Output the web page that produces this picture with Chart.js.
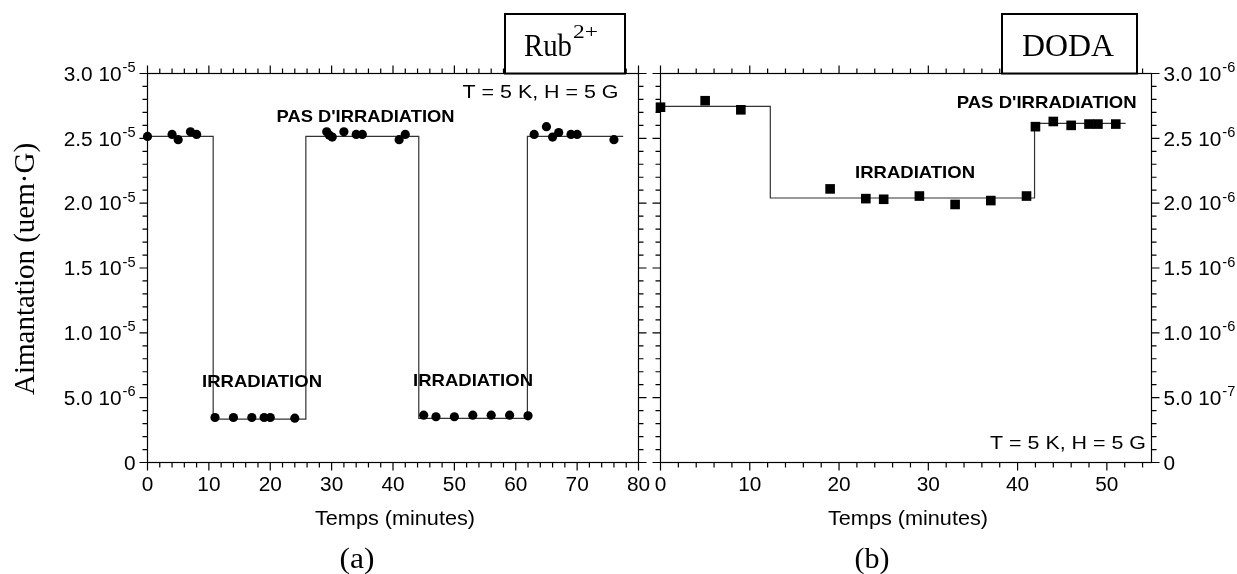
<!DOCTYPE html>
<html>
<head>
<meta charset="utf-8">
<script src="https://cdn.jsdelivr.net/npm/chart.js@4.4.0/dist/chart.umd.min.js"></script>
<style>
  html, body { margin: 0; padding: 0; background: #fff; }
  #zone { position: relative; width: 1237px; height: 574px; overflow: hidden; }
  canvas { position: absolute; top: 0; }
  #grapheA { left: 0; }
  #grapheB { left: 640px; }
</style>
</head>
<body>
<div id="zone">
  <canvas id="grapheA" width="660" height="574"></canvas>
  <canvas id="grapheB" width="597" height="574"></canvas>
</div>
<script>
// =========================
// Données (a) Rub2+
// =========================
const rubTemps = [0, 4, 5, 7, 8, 11, 14, 17, 19, 20, 24, 29.2, 29.6, 30.1, 32, 34, 35, 41, 42,
  45, 47, 50, 53, 56, 59, 62, 63, 65, 66, 67, 69, 70, 76];
const rubAimantation = [2.515e-5, 2.53e-5, 2.49e-5, 2.55e-5, 2.53e-5,
  3.47e-6, 3.47e-6, 3.47e-6, 3.47e-6, 3.47e-6, 3.42e-6,
  2.55e-5, 2.525e-5, 2.51e-5, 2.55e-5, 2.53e-5, 2.53e-5, 2.49e-5, 2.53e-5,
  3.65e-6, 3.53e-6, 3.53e-6, 3.65e-6, 3.65e-6, 3.65e-6, 3.6e-6,
  2.53e-5, 2.59e-5, 2.51e-5, 2.545e-5, 2.53e-5, 2.53e-5, 2.49e-5];
// paliers (courbe en escalier)
const rubPalierTemps = [0, 10.7, 25.8, 44.2, 61.9, 77.5];
const rubPalierAim = [2.515e-5, 3.35e-6, 2.515e-5, 3.4e-6, 2.515e-5, 2.515e-5];

const rubGradX = [0, 10, 20, 30, 40, 50, 60, 70, 80];
const rubGradY = [0, 5e-6, 1e-5, 1.5e-5, 2e-5, 2.5e-5, 3e-5];
const rubMantisses = ['0', '5.0 10', '1.0 10', '1.5 10', '2.0 10', '2.5 10', '3.0 10'];
const rubExposants = ['', '-6', '-5', '-5', '-5', '-5', '-5'];

// =========================
// Données (b) DODA
// =========================
const dodaTemps = [0, 5, 9, 19, 23, 25, 29, 33, 37, 41, 42, 44, 46, 48, 49, 51];
const dodaAimantation = [2.74e-6, 2.79e-6, 2.72e-6, 2.11e-6, 2.035e-6, 2.03e-6, 2.055e-6, 1.99e-6,
  2.02e-6, 2.055e-6, 2.59e-6, 2.63e-6, 2.6e-6, 2.61e-6, 2.61e-6, 2.61e-6];
const dodaPalierTemps = [0, 12.3, 41.9, 52.1];
const dodaPalierAim = [2.747e-6, 2.04e-6, 2.615e-6, 2.615e-6];

const dodaGradX = [0, 10, 20, 30, 40, 50];
const dodaGradY = [0, 5e-7, 1e-6, 1.5e-6, 2e-6, 2.5e-6, 3e-6];
const dodaMantisses = ['0', '5.0 10', '1.0 10', '1.5 10', '2.0 10', '2.5 10', '3.0 10'];
const dodaExposants = ['', '-7', '-6', '-6', '-6', '-6', '-6'];

// =========================
// Utilitaires de texte
// =========================
const SANS = '"Liberation Sans", Arial, sans-serif';
const SERIF = '"Liberation Serif", "Times New Roman", serif';
const POLICE_GRAD = '20px ' + SANS;
const POLICE_EXP = '14px ' + SANS;
const SX_GRAD = 1.04;

function mesure(ctx, str, font) {
  ctx.font = font;
  return ctx.measureText(str).width;
}

// écrit un texte, étiré horizontalement de sx
function texte(ctx, str, x, y, font, align, sx) {
  sx = sx || 1;
  const w = mesure(ctx, str, font) * sx;
  let x0 = x;
  if (align === 'center') x0 = x - w / 2;
  else if (align === 'right') x0 = x - w;
  ctx.save();
  ctx.font = font;
  ctx.fillStyle = '#000';
  ctx.textAlign = 'left';
  ctx.textBaseline = 'alphabetic';
  ctx.translate(x0, y);
  ctx.scale(sx, 1);
  ctx.fillText(str, 0, 0);
  ctx.restore();
  return w;
}

// texte ajusté à une largeur donnée
function texteLargeur(ctx, str, x, y, font, align, largeur) {
  const sx = largeur / mesure(ctx, str, font);
  return texte(ctx, str, x, y, font, align, sx);
}

function etiquetteY(ctx, mant, exp, x, y, cote) {
  const wm = mesure(ctx, mant, POLICE_GRAD) * SX_GRAD;
  const we = exp ? mesure(ctx, exp, POLICE_EXP) * SX_GRAD + 1 : 0;
  const debut = cote === 'gauche' ? x - wm - we : x;
  texte(ctx, mant, debut, y + 7.3, POLICE_GRAD, 'left', SX_GRAD);
  if (exp) texte(ctx, exp, debut + wm + 1, y - 1.5, POLICE_EXP, 'left', SX_GRAD);
}

// =========================
// Plugin : cadre, graduations, textes
// =========================
function plugCadre(cfg) {
  return {
    id: 'cadre' + cfg.nom,
    afterDraw(chart) {
      const { ctx, chartArea: a, scales: { x, y } } = chart;
      const dx = cfg.decalage;
      ctx.save();
      ctx.strokeStyle = '#000';
      ctx.lineWidth = 1.2;
      ctx.strokeRect(a.left, a.top, a.right - a.left, a.bottom - a.top);

      ctx.beginPath();
      // graduations X (bas et haut, vers l'extérieur)
      for (let i = 0; i * cfg.pasX <= x.max + 1e-9; i++) {
        const v = i * cfg.pasX;
        const px = x.getPixelForValue(v);
        const l = cfg.gradX.includes(v) ? 8 : 5;
        ctx.moveTo(px, a.bottom); ctx.lineTo(px, a.bottom + l);
        ctx.moveTo(px, a.top); ctx.lineTo(px, a.top - l);
      }
      // graduations Y (gauche et droite)
      for (let i = 0; i * cfg.pasY <= y.max * 1.0000001; i++) {
        const v = i * cfg.pasY;
        const py = y.getPixelForValue(v);
        const majeur = cfg.gradY.some(g => Math.abs(g - v) < cfg.pasY / 100);
        const l = majeur ? 8 : 5;
        ctx.moveTo(a.left, py); ctx.lineTo(a.left - l, py);
        ctx.moveTo(a.right, py); ctx.lineTo(a.right + l, py);
      }
      ctx.stroke();

      // étiquettes
      cfg.gradX.forEach(v => {
        texte(ctx, String(v), x.getPixelForValue(v), a.bottom + 28.8, POLICE_GRAD, 'center', SX_GRAD);
      });
      cfg.gradY.forEach((v, i) => {
        const py = y.getPixelForValue(v);
        if (cfg.cote === 'gauche') etiquetteY(ctx, cfg.mant[i], cfg.exp[i], a.left - 12, py, 'gauche');
        else etiquetteY(ctx, cfg.mant[i], cfg.exp[i], a.right + 12, py, 'droite');
      });

      // titre de l'axe X
      texteLargeur(ctx, 'Temps (minutes)', (a.left + a.right) / 2 + 2, 525, '21px ' + SANS, 'center', 160);

      // annotations
      cfg.notes.forEach(n => {
        texteLargeur(ctx, n.t, n.x - dx, n.y, n.font, 'left', n.w);
      });

      // lettre (a)/(b)
      texteLargeur(ctx, cfg.lettre, cfg.lettreX - dx, 567.5, '30px ' + SERIF, 'center', 35);

      // encadré du composé
      const b = cfg.boite;
      ctx.fillStyle = '#fff';
      ctx.fillRect(b.x - dx, b.y, b.w, a.top - b.y);
      ctx.lineWidth = 2;
      ctx.strokeRect(b.x - dx, b.y, b.w, a.top - b.y);
      b.textes.forEach(t => texteLargeur(ctx, t.t, t.x - dx, t.y, t.font, 'left', t.w));

      if (cfg.titreY) {
        ctx.save();
        ctx.translate(33.5, (a.top + a.bottom) / 2 + 1);
        ctx.rotate(-Math.PI / 2);
        texte(ctx, 'Aimantation (uem\u00b7G)', 0, 0, '29px ' + SERIF, 'center', 1);
        ctx.restore();
      }
      ctx.restore();
    }
  };
}

function nuage(temps, valeurs) {
  return temps.map((t, i) => ({ x: t, y: valeurs[i] }));
}

function creerGraphe(idCanvas, cfg) {
  const ctx = document.getElementById(idCanvas).getContext('2d');
  return new Chart(ctx, {
    type: 'scatter',
    data: {
      datasets: [{
        data: nuage(cfg.temps, cfg.aim),
        pointStyle: cfg.symbole,
        pointRadius: cfg.rayon,
        pointBorderWidth: 0,
        backgroundColor: '#000',
        borderColor: '#000',
        showLine: false,
        clip: false
      }, {
        data: nuage(cfg.palierT, cfg.palierA),
        showLine: true,
        stepped: true,
        pointRadius: 0,
        borderColor: '#333',
        borderWidth: 1.2,
        clip: false
      }]
    },
    options: {
      responsive: false,
      devicePixelRatio: 1,
      animation: false,
      layout: { padding: cfg.marges },
      plugins: { legend: { display: false }, tooltip: { enabled: false } },
      scales: {
        x: { type: 'linear', min: 0, max: cfg.xMax, display: false },
        y: { type: 'linear', min: 0, max: cfg.yMax, display: false }
      }
    },
    plugins: [plugCadre(cfg)]
  });
}

const BOLD = 'bold 17px ' + SANS;

creerGraphe('grapheA', {
  nom: 'A', decalage: 0, cote: 'gauche', titreY: true,
  temps: rubTemps, aim: rubAimantation, palierT: rubPalierTemps, palierA: rubPalierAim,
  symbole: 'circle', rayon: 4.6,
  xMax: 80, yMax: 3e-5, pasX: 2, pasY: 1e-6,
  gradX: rubGradX, gradY: rubGradY, mant: rubMantisses, exp: rubExposants,
  marges: { left: 147.5, right: 21.5, top: 73.5, bottom: 111.5 },
  lettre: '(a)', lettreX: 357,
  notes: [
    { t: 'T = 5 K, H = 5 G', x: 462.5, y: 98.3, font: '18px ' + SANS, w: 156 },
    { t: "PAS D'IRRADIATION", x: 276.5, y: 122, font: BOLD, w: 178 },
    { t: 'IRRADIATION', x: 202, y: 387.3, font: BOLD, w: 120 },
    { t: 'IRRADIATION', x: 413, y: 386, font: BOLD, w: 120 }
  ],
  boite: { x: 505, y: 14, w: 120, textes: [
    { t: 'Rub', x: 524, y: 56, font: '32px ' + SERIF, w: 48 },
    { t: '2+', x: 573, y: 38, font: '19px ' + SERIF, w: 25 }
  ] }
});

creerGraphe('grapheB', {
  nom: 'B', decalage: 640, cote: 'droite', titreY: false,
  temps: dodaTemps, aim: dodaAimantation, palierT: dodaPalierTemps, palierA: dodaPalierAim,
  symbole: 'rect', rayon: 6.8,
  xMax: 55, yMax: 3e-6, pasX: 2, pasY: 1e-7,
  gradX: dodaGradX, gradY: dodaGradY, mant: dodaMantisses, exp: dodaExposants,
  marges: { left: 20.5, right: 85.5, top: 73.5, bottom: 111.5 },
  lettre: '(b)', lettreX: 872,
  notes: [
    { t: "PAS D'IRRADIATION", x: 956.7, y: 108.3, font: BOLD, w: 180 },
    { t: 'IRRADIATION', x: 855, y: 178.3, font: BOLD, w: 120 },
    { t: 'T = 5 K, H = 5 G', x: 990, y: 449.3, font: '18px ' + SANS, w: 156 }
  ],
  boite: { x: 1002, y: 14, w: 135, textes: [
    { t: 'DODA', x: 1022, y: 56, font: '32px ' + SERIF, w: 92 }
  ] }
});
</script>
</body>
</html>
